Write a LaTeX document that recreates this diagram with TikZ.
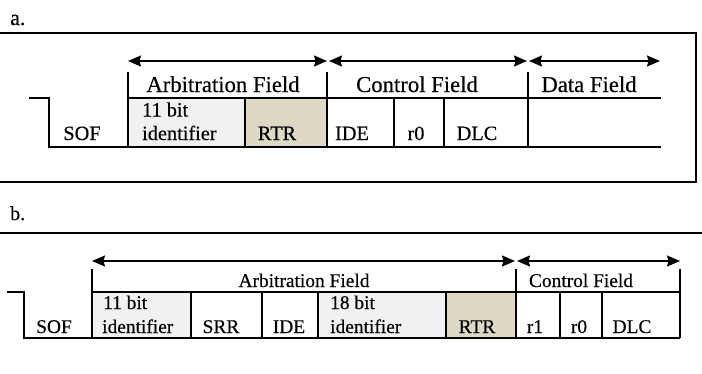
\documentclass[tikz,border=0pt]{standalone}
\usepackage{fontspec}
\setmainfont{Liberation Serif}[UprightFeatures={FakeBold=0.4}]
\usetikzlibrary{arrows.meta}
\definecolor{idgray}{HTML}{F1F1F1}
\definecolor{rtrtan}{HTML}{DDD9C4}
\tikzset{
  frame/.style={line width=1.5pt},
  cellline/.style={line width=1.5pt},
  span/.style={line width=1.5pt,
    {Stealth[length=13pt,width=11pt,inset=1.5pt]}-{Stealth[length=13pt,width=11pt,inset=1.5pt]}},
  lbl/.style={font=\fontsize{22}{24}\selectfont, anchor=base west, inner sep=0pt},
  hdrA/.style={font=\fontsize{22.7}{24}\selectfont, anchor=base, inner sep=0pt},
  cellA/.style={font=\fontsize{20.3}{22}\selectfont, anchor=base, inner sep=0pt},
  cellAw/.style={cellA, anchor=base west},
  txtB/.style={font=\fontsize{19.4}{21}\selectfont, anchor=base, inner sep=0pt},
  txtBw/.style={txtB, anchor=base west},
}
\begin{document}
\begin{tikzpicture}[x=1pt,y=-1pt]
\useasboundingbox (0,0) rectangle (702,373);

% ---------- a. standard frame ----------
\node[lbl] (labA) at (10,25) {a.};
\draw[frame] (0,33) -- (696,33) -- (696,182) -- (0,182);

% shaded cells
\fill[idgray] (128,98) rectangle (245,147);
\fill[rtrtan] (245,98) rectangle (327,147);

% signal line with SOF step and field grid
\draw[cellline] (29,98) -- (49,98) -- (49,147) -- (661,147);
\draw[cellline] (128,98) -- (661,98);
\draw[cellline] (128,72) -- (128,147);
\draw[cellline] (327,72) -- (327,147);
\draw[cellline] (528,72) -- (528,147);
\draw[cellline] (245,98) -- (245,147);
\draw[cellline] (394,98) -- (394,147);
\draw[cellline] (444,98) -- (444,147);

% field spans
\coordinate (aArbL) at (128,61);
\coordinate (aArbR) at (327,61);
\coordinate (aCtlL) at (329,61);
\coordinate (aCtlR) at (527,61);
\coordinate (aDatL) at (529,61);
\coordinate (aDatR) at (660,61);
\draw[span] (aArbL) -- (aArbR);
\draw[span] (aCtlL) -- (aCtlR);
\draw[span] (aDatL) -- (aDatR);

\node[hdrA] (aArb) at (223,92) {Arbitration Field};
\node[hdrA] (aCtl) at (417,92) {Control Field};
\node[hdrA] (aDat) at (589,92) {Data Field};

\node[cellA]  (aSOF) at (82,140) {SOF};
\node[cellAw] (aId1) at (142,116.5) {11 bit};
\node[cellAw] (aId2) at (142,140) {identifier};
\node[cellA]  (aRTR) at (277,140) {RTR};
\node[cellA]  (aIDE) at (352,140) {IDE};
\node[cellA]  (aR0)  at (416,140) {r0};
\node[cellA]  (aDLC) at (477,140) {DLC};

% ---------- b. extended frame ----------
\node[lbl, font=\fontsize{20}{22}\selectfont] (labB) at (10,220) {b.};
\draw[frame] (0,233) -- (702,233);

\fill[idgray] (92,292) rectangle (191,338);
\fill[idgray] (318,292) rectangle (446,338);
\fill[rtrtan] (446,292) rectangle (516,338);

\draw[cellline] (7,292) -- (24,292) -- (24,338) -- (680,338);
\draw[cellline] (92,292) -- (680,292);
\draw[cellline] (92,269) -- (92,338);
\draw[cellline] (516,269) -- (516,338);
\draw[cellline] (680,269) -- (680,338);
\foreach \xx in {191,262,318,446,560,602}
  \draw[cellline] (\xx,292) -- (\xx,338);

\coordinate (bArbL) at (92,261);
\coordinate (bArbR) at (515,261);
\coordinate (bCtlL) at (517,261);
\coordinate (bCtlR) at (680,261);
\draw[span] (bArbL) -- (bArbR);
\draw[span] (bCtlL) -- (bCtlR);

\node[txtB] (bArb) at (304,287) {Arbitration Field};
\node[txtB] (bCtl) at (581,287) {Control Field};

\node[txtB]  (bSOF) at (54,333) {SOF};
\node[txtBw] (bId1) at (103,309) {11 bit};
\node[txtBw] (bId2) at (102,333) {identifier};
\node[txtB]  (bSRR) at (221,333) {SRR};
\node[txtB]  (bIDE) at (289,333) {IDE};
\node[txtBw] (bEx1) at (330,309) {18 bit};
\node[txtBw] (bEx2) at (330,333) {identifier};
\node[txtB]  (bRTR) at (477,333) {RTR};
\node[txtB]  (bR1)  at (535,333) {r1};
\node[txtB]  (bR0)  at (579,333) {r0};
\node[txtB]  (bDLC) at (632,333) {DLC};
\end{tikzpicture}
\end{document}
